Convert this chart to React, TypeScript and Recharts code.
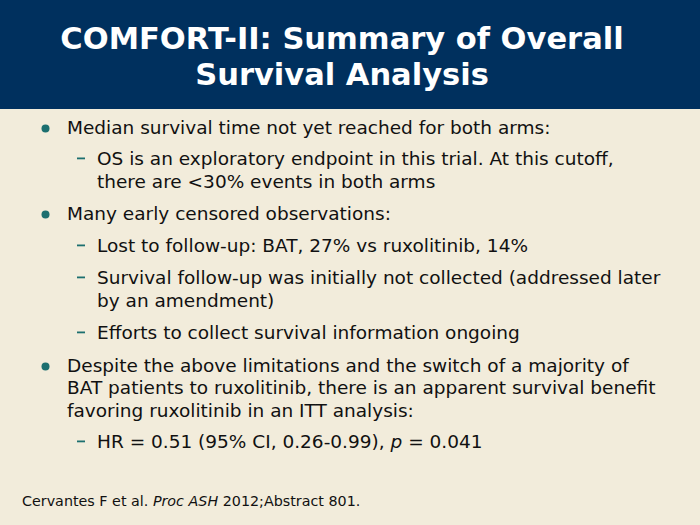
import React from 'react';
import { Surface } from 'recharts';

// slide text, one entry per rendered line
const TITLE_LINES = ['COMFORT-II: Summary of Overall', 'Survival Analysis'];

type Seg = { t: string; i?: boolean };
type Line = { level: 1 | 2; first: boolean; segs: Seg[] };

const BODY_LINES: Line[] = [
  { level: 1, first: true, segs: [{ t: 'Median survival time not yet reached for both arms:' }] },
  { level: 2, first: true, segs: [{ t: 'OS is an exploratory endpoint in this trial. At this cutoff,' }] },
  { level: 2, first: false, segs: [{ t: 'there are <30% events in both arms' }] },
  { level: 1, first: true, segs: [{ t: 'Many early censored observations:' }] },
  { level: 2, first: true, segs: [{ t: 'Lost to follow-up: BAT, 27% vs ruxolitinib, 14%' }] },
  { level: 2, first: true, segs: [{ t: 'Survival follow-up was initially not collected (addressed later' }] },
  { level: 2, first: false, segs: [{ t: 'by an amendment)' }] },
  { level: 2, first: true, segs: [{ t: 'Efforts to collect survival information ongoing' }] },
  { level: 1, first: true, segs: [{ t: 'Despite the above limitations and the switch of a majority of' }] },
  { level: 1, first: false, segs: [{ t: 'BAT patients to ruxolitinib, there is an apparent survival benefit' }] },
  { level: 1, first: false, segs: [{ t: 'favoring ruxolitinib in an ITT analysis:' }] },
  { level: 2, first: true, segs: [{ t: 'HR = 0.51 (95% CI, 0.26-0.99), ' }, { t: 'p', i: true }, { t: ' = 0.041' }] },
];
// text baselines
const LINE_Y = [134, 165, 188, 220, 252, 284, 307, 339, 372, 394, 417, 448];

const FOOTER: Seg[] = [
  { t: 'Cervantes F et al. ' },
  { t: 'Proc ASH', i: true },
  { t: ' 2012;Abstract 801.' },
];

const NAVY = '#00305e';
const BG = '#f2ecdb';
const TEAL = '#1c6f6f';
const FONT = '"DejaVu Sans", Verdana, sans-serif';

export default function App() {
  return (
    <div style={{ position: 'absolute', left: 0, top: 0, width: 700, height: 525 }}>
      <Surface width={700} height={525} viewBox={{ x: 0, y: 0, width: 700, height: 525 }}>
        <rect x={0} y={0} width={700} height={525} fill={BG} />
        <rect x={0} y={0} width={700} height={109} fill={NAVY} />
        {TITLE_LINES.map((t, i) => (
          <text
            key={t}
            x={342}
            y={49 + i * 36}
            textAnchor="middle"
            fill="#ffffff"
            fontFamily={FONT}
            fontWeight="bold"
            fontSize={30.5}
          >
            {t}
          </text>
        ))}
        {BODY_LINES.map((ln, i) => {
          const y = LINE_Y[i];
          const tx = ln.level === 1 ? 67 : 97;
          return (
            <g key={i}>
              {ln.first && ln.level === 1 && <circle cx={45.5} cy={y - 5.5} r={4} fill={TEAL} />}
              {ln.first && ln.level === 2 && (
                <rect x={77} y={y - 7.5} width={8} height={1.8} fill={TEAL} />
              )}
              <text
                x={tx}
                y={y}
                fill="#111111"
                fontFamily={FONT}
                fontSize={18.5}
                style={{ whiteSpace: 'pre' }}
              >
                {ln.segs.map((s, j) => (
                  <tspan key={j} fontStyle={s.i ? 'italic' : 'normal'}>
                    {s.t}
                  </tspan>
                ))}
              </text>
            </g>
          );
        })}
        <text
          x={22}
          y={505.5}
          fill="#111111"
          fontFamily={FONT}
          fontSize={14.3}
          style={{ whiteSpace: 'pre' }}
        >
          {FOOTER.map((s, j) => (
            <tspan key={j} fontStyle={s.i ? 'italic' : 'normal'}>
              {s.t}
            </tspan>
          ))}
        </text>
      </Surface>
    </div>
  );
}
